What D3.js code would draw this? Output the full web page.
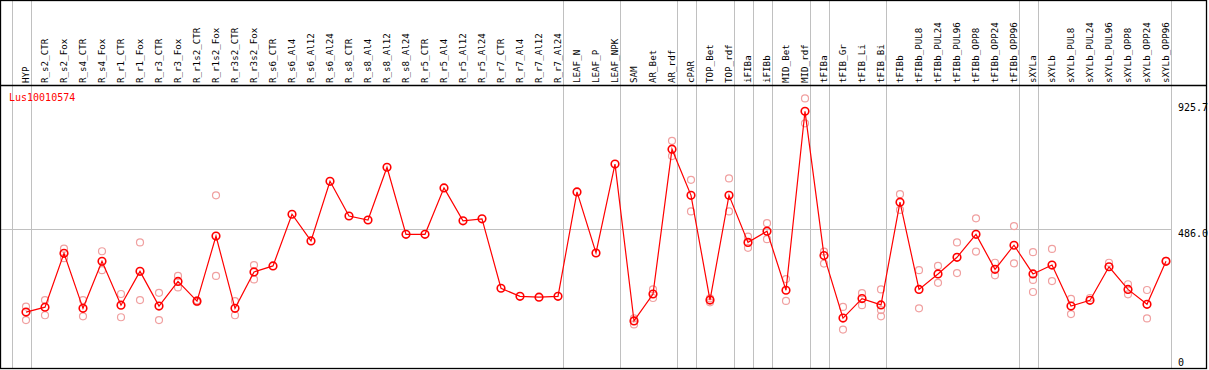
<!DOCTYPE html>
<html>
<head>
  <meta charset="utf-8">
  <title>Lus10010574</title>
  <script src="https://d3js.org/d3.v7.min.js"></script>
  <style>
    body { margin: 0; background: #fff; }
    svg { display: block; }
    text { font-family: "DejaVu Sans Mono", monospace; }
  </style>
</head>
<body>
  <div id="chart"></div>
  <script>
    // Muestras (columnas)
    const samples = ["HYP", "R_s2_CTR", "R_s2_Fox", "R_s4_CTR", "R_s4_Fox", "R_r1_CTR", "R_r1_Fox",
      "R_r3_CTR", "R_r3_Fox", "R_r1s2_CTR", "R_r1s2_Fox", "R_r3s2_CTR", "R_r3s2_Fox",
      "R_s6_CTR", "R_s6_Al4", "R_s6_Al12", "R_s6_Al24", "R_s8_CTR", "R_s8_Al4", "R_s8_Al12", "R_s8_Al24",
      "R_r5_CTR", "R_r5_Al4", "R_r5_Al12", "R_r5_Al24", "R_r7_CTR", "R_r7_Al4", "R_r7_Al12", "R_r7_Al24",
      "LEAF_N", "LEAF_P", "LEAF_NPK", "SAM", "AR_Bet", "AR_rdf", "cPAR", "TOP_Bet", "TOP_rdf",
      "iFIBa", "iFIBb", "MID_Bet", "MID_rdf", "tFIBa", "tFIB_Gr", "tFIB_Li", "tFIB_Bi",
      "tFIBb", "tFIBb_PUL8", "tFIBb_PUL24", "tFIBb_PUL96", "tFIBb_OPP8", "tFIBb_OPP24", "tFIBb_OPP96",
      "sXYLa", "sXYLb", "sXYLb_PUL8", "sXYLb_PUL24", "sXYLb_PUL96", "sXYLb_OPP8", "sXYLb_OPP24", "sXYLb_OPP96"];

    // Ultima muestra de cada grupo (lineas grises verticales)
    const groupEnds = ["HYP", "R_r7_Al24", "LEAF_NPK", "AR_rdf", "cPAR", "TOP_rdf", "iFIBa", "iFIBb",
      "MID_rdf", "tFIBa", "tFIB_Bi", "tFIBb_OPP96", "sXYLa", "sXYLb_OPP96"];

    // Valor medio (linea roja)
    const meanValues = [195, 212, 400, 208, 372, 219, 337, 216, 302, 233, 460, 208, 335,
      356, 536, 443, 651, 530, 516, 700, 466, 466, 628, 513, 520, 278, 250, 247, 250,
      614, 401, 711, 164, 258, 763, 602, 237, 602, 438, 477, 271, 895, 392, 174, 242, 220,
      578, 274, 328, 386, 466, 344, 428, 328, 359, 216, 236, 353, 274, 222, 372];

    // Replicas (circulos rosas); null = sin replica visible
    const rep1 = [214, 237, 416, 237, 407, 258, 438, 262, 321, 236, 602, 233, 359,
      null, null, null, null, null, null, null, null, null, null, null, null, null, null, null, null,
      null, null, null, 173, 274, 792, 656, 243, 661, 458, 505, 310, 940, 406, 213, 261, 274,
      606, 341, 356, 438, 522, 367, 495, 404, 415, 241, 244, 367, 292, 272, 374];
    const rep2 = [167, 184, 383, 180, 341, 177, 237, 167, 281, 230, 321, 184, 309,
      null, null, null, null, null, null, null, null, null, null, null, null, null, null, null, null,
      null, null, null, 152, 244, 739, 546, 229, 546, 419, 449, 234, 853, 364, 134, 219, 202,
      551, 208, 297, 331, 406, 323, 365, 307, 303, 188, null, null, 257, 173, null];
    const rep3 = [null, null, null, null, null, null, null, null, null, null, null, null, null,
      null, null, null, null, null, null, null, null, null, null, null, null, null, null, null, null,
      null, null, null, null, null, null, null, null, null, null, null, null, null, null, null, null, 180,
      null, null, null, null, null, null, null, 265, null, null, null, null, null, null, null];

    // Marcas del eje Y
    const yTicks = [0, 486.0, 925.7];
    const geneName = "Lus10010574";

    const W = 1209, H = 370;
    const frame = {left: 0.5, right: 1206.5, top: 0.5, bottom: 368.5, header: 85.5};

    const svg = d3.select("#chart").append("svg")
      .attr("width", W).attr("height", H);

    // Escalas
    const x = d3.scalePoint().domain(samples).range([26, 1166]);
    const y = d3.scaleLinear().domain([0, 925.7]).range([368, 102.5]);
    const step = x.step();

    // Lineas grises verticales (limites de grupo)
    const bounds = [x(samples[0]) - step + 4.5].concat(groupEnds.map(s => x(s) + 4.5));
    svg.selectAll("line.sep").data(bounds).enter().append("line")
      .attr("class", "sep")
      .attr("x1", d => Math.round(d) + 0.5).attr("x2", d => Math.round(d) + 0.5)
      .attr("y1", frame.top).attr("y2", frame.bottom)
      .attr("stroke", "#c0c0c0").attr("stroke-width", 1);

    // Linea de referencia 486.0
    svg.append("line")
      .attr("x1", frame.left).attr("x2", Math.round(x(samples[samples.length - 1]) + 4.5) + 0.5)
      .attr("y1", Math.round(y(486)) + 0.5).attr("y2", Math.round(y(486)) + 0.5)
      .attr("stroke", "#c0c0c0").attr("stroke-width", 1);

    // Marco
    svg.append("rect")
      .attr("x", frame.left).attr("y", frame.top)
      .attr("width", frame.right - frame.left).attr("height", frame.bottom - frame.top)
      .attr("fill", "none").attr("stroke", "#000").attr("stroke-width", 1.3);
    svg.append("line")
      .attr("x1", frame.left).attr("x2", frame.right)
      .attr("y1", frame.header).attr("y2", frame.header)
      .attr("stroke", "#000").attr("stroke-width", 1.3);

    // Etiquetas de muestra (verticales)
    svg.selectAll("text.lab").data(samples).enter().append("text")
      .attr("class", "lab")
      .attr("transform", d => `translate(${x(d) + 3},83) rotate(-90)`)
      .attr("font-size", "9.2px")
      .attr("fill", "#000")
      .text(d => d);

    // Etiquetas del eje Y
    svg.selectAll("text.tick").data(yTicks).enter().append("text")
      .attr("class", "tick")
      .attr("x", 1178)
      .attr("y", d => d === 0 ? 366 : y(d) + 8)
      .attr("font-size", "10px")
      .attr("fill", "#000")
      .text(d => d === 0 ? "0" : d3.format(".1f")(d));

    // Nombre del gen
    svg.append("text")
      .attr("x", 9).attr("y", 101)
      .attr("font-size", "10px")
      .attr("fill", "red")
      .text(geneName);

    // Replicas
    const reps = [];
    [rep1, rep2, rep3].forEach(arr => arr.forEach((v, i) => {
      if (v !== null) reps.push({s: samples[i], v: v});
    }));
    svg.selectAll("circle.rep").data(reps).enter().append("circle")
      .attr("class", "rep")
      .attr("cx", d => x(d.s)).attr("cy", d => y(d.v))
      .attr("r", 3.5)
      .attr("fill", "none").attr("stroke", "#f0a0a0").attr("stroke-width", 1.2);

    // Linea media
    const pts = samples.map((s, i) => ({s: s, v: meanValues[i]}));
    const line = d3.line().x(d => x(d.s)).y(d => y(d.v));
    svg.append("path").datum(pts)
      .attr("d", line)
      .attr("fill", "none").attr("stroke", "red").attr("stroke-width", 1.2);

    svg.selectAll("circle.mean").data(pts).enter().append("circle")
      .attr("class", "mean")
      .attr("cx", d => x(d.s)).attr("cy", d => y(d.v))
      .attr("r", 3.8)
      .attr("fill", "none").attr("stroke", "red").attr("stroke-width", 1.6);
  </script>
</body>
</html>
